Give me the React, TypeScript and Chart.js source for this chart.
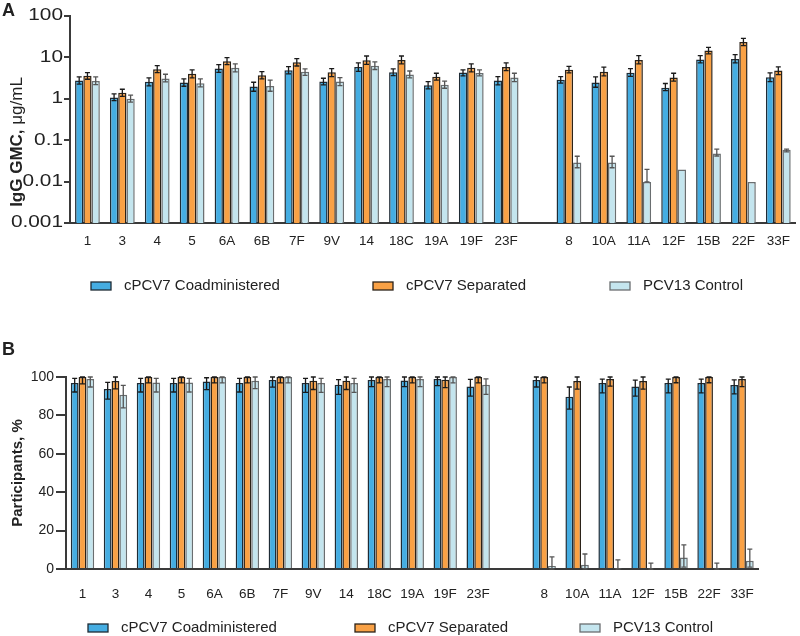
import React, { useEffect, useRef } from "react";
import { Chart, registerables } from "chart.js";

Chart.register(...registerables);

// ---------- DATA ----------
const serotypes = ["1", "3", "4", "5", "6A", "6B", "7F", "9V", "14", "18C", "19A", "19F", "23F", "8", "10A", "11A", "12F", "15B", "22F", "33F"];
const firstGroupCount = 13; // serotypes shared with PCV13
const seriesNames = ["cPCV7 Coadministered", "cPCV7 Separated", "PCV13 Control"];

// Panel A: IgG GMC (µg/mL)
const gmcCoad = [2.76, 1.07, 2.57, 2.47, 5.4, 1.98, 4.9, 2.61, 5.9, 4.37, 2.13, 4.3, 2.76, 2.87, 2.47, 4.24, 1.84, 8.85, 9.2, 3.31];
const gmcCoadLo = [2.25, 0.9, 2.06, 2.01, 4.37, 1.52, 4.0, 2.17, 4.6, 3.64, 1.74, 3.58, 2.17, 2.38, 1.9, 3.5, 1.58, 7.4, 7.4, 2.61];
const gmcCoadHi = [3.39, 1.32, 3.2, 3.03, 6.7, 2.51, 6.0, 3.14, 7.4, 5.3, 2.61, 5.0, 3.45, 3.45, 3.39, 5.37, 2.34, 11.0, 11.7, 4.24];
const gmcSep = [3.6, 1.4, 5.2, 4.0, 8.05, 3.7, 7.6, 4.37, 8.5, 8.7, 3.39, 5.6, 5.9, 5.0, 4.48, 8.7, 3.26, 14.6, 23.6, 4.81];
const gmcSepLo = [2.97, 1.14, 4.3, 3.2, 6.7, 3.03, 6.2, 3.45, 6.8, 7.0, 2.81, 4.47, 4.8, 4.24, 3.58, 7.0, 2.66, 12.1, 19.2, 3.85];
const gmcSepHi = [4.3, 1.7, 6.3, 5.0, 9.9, 4.54, 9.3, 5.37, 10.8, 10.8, 4.14, 7.0, 7.4, 6.1, 5.8, 11.0, 4.14, 17.5, 28.8, 5.9];
const gmcCtrl = [2.7, 1.0, 3.1, 2.38, 5.6, 2.05, 4.5, 2.61, 6.3, 3.85, 2.17, 4.2, 3.26, 0.029, 0.029, 0.0098, 0.0195, 0.048, 0.0098, 0.059];
const gmcCtrlLo = [2.2, 0.83, 2.57, 1.95, 4.47, 1.52, 3.7, 2.09, 5.1, 3.2, 1.8, 3.58, 2.61, 0.0216, 0.0216, 0.0098, null, 0.0415, null, 0.052];
const gmcCtrlHi = [3.39, 1.22, 3.92, 3.03, 7.0, 2.81, 5.3, 3.26, 7.8, 4.7, 2.66, 5.0, 4.14, 0.041, 0.041, 0.0198, null, 0.061, null, 0.061];
const gmcTicks = [0.001, 0.01, 0.1, 1, 10, 100];

// Panel B: participants (%)
const pctCoad = [96.9, 93.7, 96.9, 96.9, 97.6, 96.9, 98.4, 96.9, 96.0, 98.4, 98.2, 99.0, 95.1, 98.4, 89.7, 96.9, 95.1, 96.9, 96.9, 95.8];
const pctCoadLo = [92.2, 88.5, 92.2, 92.2, 93.4, 92.2, 94.7, 92.0, 91.0, 95.0, 95.0, 95.5, 90.0, 94.8, 83.3, 91.7, 90.0, 91.7, 91.7, 91.2];
const pctCoadHi = [99.3, 97.2, 99.3, 99.3, 99.6, 99.3, 100, 99.3, 98.6, 100, 100, 100, 98.8, 100, 94.8, 98.9, 98.4, 98.9, 98.9, 98.5];
const pctSep = [100, 97.9, 100, 100, 100, 100, 100, 98, 98, 100, 100, 98.6, 100, 100, 97.9, 99, 97.9, 100, 100, 99];
const pctSepLo = [96.4, 93.8, 96.9, 96.9, 96.9, 96.9, 96.9, 93.5, 93.5, 96.9, 96.9, 94.5, 96.9, 96.9, 93.7, 95.2, 93.7, 97.0, 97.0, 95.0];
const pctSepHi = [100, 100, 100, 100, 100, 100, 100, 100, 100, 100, 100, 100, 100, 100, 100, 100, 100, 100, 100, 100];
const pctCtrl = [99, 90.8, 97.2, 97.2, 100, 98, 100, 96.9, 96.9, 99, 99, 100, 96, 1.5, 2.2, 0.3, 0, 6.0, 0, 4.3];
const pctCtrlLo = [94.8, 83.9, 92.2, 92.2, 96.9, 93.9, 96.9, 92.0, 92.0, 95.0, 95.0, 96.9, 91.0, 0, 0.1, 0, 0, 1.0, 0, 1.0];
const pctCtrlHi = [100, 95.6, 99.3, 99.3, 100, 100, 100, 99.3, 99.3, 100, 100, 100, 99.0, 6.3, 7.8, 4.8, 3.1, 12.6, 3.1, 10.4];
const pctTicks = [0, 20, 40, 60, 80, 100];

// ---------- STYLE ----------
const FONT = "'Liberation Sans', Arial, Helvetica, sans-serif";
const fills = ["#45ADE2", "#F9A145", "#C4E5EE"];
const borders = ["#1E2B35", "#2B2218", "#6A6E70"];
const errColors = ["#1a1a1a", "#1a1a1a", "#555555"];
const AXIS = "#3a3a3a";
const TEXT = "#222222";

const errorBarPlugin = {
  id: "errorBars",
  afterDatasetsDraw(chart: any) {
    const ctx = chart.ctx;
    const yScale = chart.scales.y;
    chart.data.datasets.forEach((ds: any, di: number) => {
      const meta = chart.getDatasetMeta(di);
      const lo = ds.errLo;
      const hi = ds.errHi;
      if (!lo || !hi) return;
      meta.data.forEach((bar: any, i: number) => {
        if (lo[i] == null || hi[i] == null) return;
        const x = bar.x;
        const y1 = yScale.getPixelForValue(lo[i]);
        const y2 = yScale.getPixelForValue(hi[i]);
        ctx.save();
        ctx.strokeStyle = ds.errColor;
        ctx.lineWidth = 1.3;
        ctx.beginPath();
        ctx.moveTo(x, y1);
        ctx.lineTo(x, y2);
        ctx.moveTo(x - 2.5, y1);
        ctx.lineTo(x + 2.5, y1);
        ctx.moveTo(x - 2.5, y2);
        ctx.lineTo(x + 2.5, y2);
        ctx.stroke();
        ctx.restore();
      });
    });
  },
};

const decorPlugin = {
  id: "decor",
  afterDraw(chart: any, _args: any, opts: any) {
    const ctx = chart.ctx;
    ctx.save();
    // panel letter
    ctx.fillStyle = TEXT;
    ctx.font = `bold 18px ${FONT}`;
    ctx.textAlign = "left";
    ctx.textBaseline = "middle";
    ctx.fillText(opts.letter, 2, opts.letterY);
    ctx.restore();

    // wide y tick labels (drawn from the scale's own ticks)
    if (opts.wideTicks) {
      const yScale = chart.scales.y;
      ctx.save();
      ctx.fillStyle = TEXT;
      ctx.font = `${opts.wideTicks.size}px ${FONT}`;
      ctx.textAlign = "right";
      ctx.textBaseline = "middle";
      yScale.ticks.forEach((t: any) => {
        const y = yScale.getPixelForValue(t.value);
        ctx.save();
        ctx.translate(chart.chartArea.left - opts.wideTicks.gap, y);
        ctx.scale(opts.wideTicks.stretch, 1);
        ctx.fillText(String(t.value), 0, 0);
        ctx.restore();
      });
      ctx.restore();
    }

    // y title (mixed weight)
    ctx.save();
    ctx.fillStyle = TEXT;
    ctx.textAlign = "left";
    ctx.textBaseline = "middle";
    const parts = opts.title as { text: string; bold: boolean }[];
    const fontFor = (b: boolean) => `${b ? "bold " : ""}${opts.titleSize}px ${FONT}`;
    let total = 0;
    parts.forEach((p) => {
      ctx.font = fontFor(p.bold);
      total += ctx.measureText(p.text).width;
    });
    ctx.translate(opts.titleX, opts.titleY);
    ctx.rotate(-Math.PI / 2);
    let cx = -total / 2;
    parts.forEach((p) => {
      ctx.font = fontFor(p.bold);
      ctx.fillText(p.text, cx, 0);
      cx += ctx.measureText(p.text).width;
    });
    ctx.restore();

    // legend
    ctx.save();
    ctx.font = `${opts.legendSize}px ${FONT}`;
    ctx.textBaseline = "middle";
    ctx.textAlign = "left";
    chart.data.datasets.forEach((ds: any, i: number) => {
      const x = opts.legendXs[i];
      const y = opts.legendY;
      ctx.fillStyle = ds.backgroundColor;
      ctx.fillRect(x, y - 4, 20, 8);
      ctx.strokeStyle = ds.borderColor;
      ctx.lineWidth = 1.3;
      ctx.strokeRect(x, y - 4, 20, 8);
      ctx.fillStyle = TEXT;
      ctx.fillText(ds.label, x + 33, y);
    });
    ctx.restore();
  },
};

function positions(gap: number) {
  return serotypes.map((_, i) => (i < firstGroupCount ? i : i + gap));
}

function makeConfig(panel: "A" | "B"): any {
  const isA = panel === "A";
  const gap = isA ? 0.8 : 1.0;
  const pos = positions(gap);
  const values = isA ? [gmcCoad, gmcSep, gmcCtrl] : [pctCoad, pctSep, pctCtrl];
  const los = isA ? [gmcCoadLo, gmcSepLo, gmcCtrlLo] : [pctCoadLo, pctSepLo, pctCtrlLo];
  const his = isA ? [gmcCoadHi, gmcSepHi, gmcCtrlHi] : [pctCoadHi, pctSepHi, pctCtrlHi];
  const yTicks = isA ? gmcTicks : pctTicks;
  const datasets = values.map((vals, k) => ({
    label: seriesNames[k],
    data: vals.map((v, i) => ({ x: pos[i], y: v })),
    backgroundColor: fills[k],
    borderColor: borders[k],
    borderWidth: 1.5,
    categoryPercentage: 0.71,
    barPercentage: 1.0,
    errLo: los[k],
    errHi: his[k],
    errColor: errColors[k],
  }));
  return {
    type: "bar",
    data: { datasets },
    plugins: [errorBarPlugin, decorPlugin],
    options: {
      animation: false,
      responsive: false,
      maintainAspectRatio: false,
      layout: {
        padding: isA ? { top: 16, right: 2.5, left: 0, bottom: 0 } : { top: 59, right: 41.5, left: 0, bottom: 0 },
      },
      plugins: {
        legend: { display: false },
        tooltip: { enabled: false },
        decor: isA
          ? {
              letter: "A",
              letterY: 11,
              title: [
                { text: "IgG GMC, ", bold: true },
                { text: "μg/mL", bold: false },
              ],
              titleSize: 17,
              titleX: 17,
              titleY: 142,
              legendXs: [91, 373, 610],
              legendY: 286,
              legendSize: 15,
              wideTicks: { size: 16, stretch: 1.3, gap: 7 },
            }
          : {
              letter: "B",
              letterY: 32,
              title: [{ text: "Participants, %", bold: true }],
              titleSize: 15,
              titleX: 18,
              titleY: 155,
              legendXs: [88, 355, 580],
              legendY: 310,
              legendSize: 15,
              wideTicks: null,
            },
      },
      scales: {
        x: {
          type: "linear",
          offset: false,
          min: -0.5,
          max: serotypes.length - 0.5 + gap,
          bounds: "data",
          grid: { display: false, drawTicks: false, offset: false },
          border: { display: true, color: AXIS, width: 2 },
          afterBuildTicks: (s: any) => {
            s.ticks = pos.map((v) => ({ value: v }));
          },
          afterFit: (s: any) => {
            s.height = isA ? 95 : 67;
          },
          ticks: {
            autoSkip: false,
            maxRotation: 0,
            padding: isA ? 10 : 17,
            color: TEXT,
            font: { family: FONT, size: 13.5 },
            callback: (_v: any, i: number) => serotypes[i],
          },
        },
        y: {
          type: isA ? "logarithmic" : "linear",
          min: isA ? 0.001 : 0,
          max: 100,
          grid: {
            display: true,
            drawOnChartArea: false,
            drawTicks: true,
            tickLength: isA ? 6 : 10,
            color: AXIS,
            lineWidth: 2,
          },
          border: { display: true, color: AXIS, width: 2 },
          afterBuildTicks: (s: any) => {
            s.ticks = yTicks.map((v) => ({ value: v }));
          },
          afterFit: (s: any) => {
            s.width = isA ? 70 : 66;
          },
          ticks: {
            autoSkip: false,
            padding: 2,
            color: TEXT,
            font: { family: FONT, size: 14 },
            callback: (v: any) => (isA ? "" : String(v)),
          },
        },
      },
    },
  };
}

function Panel({ panel }: { panel: "A" | "B" }) {
  const ref = useRef<HTMLCanvasElement | null>(null);
  useEffect(() => {
    if (!ref.current) return;
    const chart = new Chart(ref.current, makeConfig(panel));
    return () => chart.destroy();
  }, [panel]);
  return <canvas ref={ref} width={800} height={318} style={{ display: "block", width: 800, height: 318 }} />;
}

export default function App() {
  return (
    <div style={{ position: "absolute", left: 0, top: 0, width: 800, height: 636, background: "#fff", overflow: "hidden" }}>
      <Panel panel="A" />
      <Panel panel="B" />
    </div>
  );
}
